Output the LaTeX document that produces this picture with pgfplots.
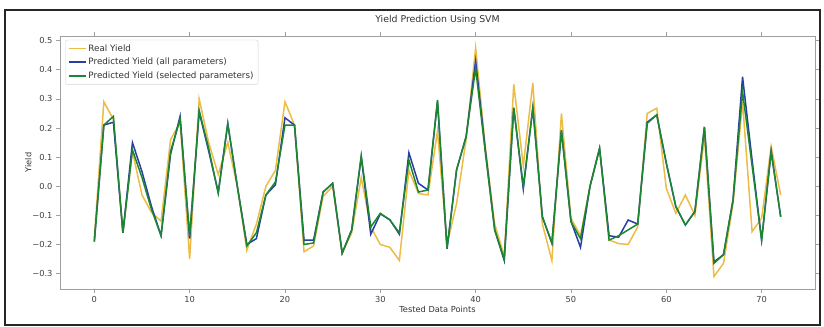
\documentclass[border=0pt]{standalone}
\usepackage{pgfplots}
\pgfplotsset{compat=1.18}
\usepackage{pgfplotstable}
\usepackage{fontspec}
\setmainfont{DejaVu Sans}
\definecolor{cyel}{RGB}{236,188,70}
\definecolor{cblu}{RGB}{40,62,165}
\definecolor{cgrn}{RGB}{28,135,48}
\pgfplotstableread{
i real allp selp
0 -0.18 -0.19 -0.19
1 0.29 0.21 0.21
2 0.23 0.22 0.24
3 -0.16 -0.16 -0.16
4 0.12 0.15 0.125
5 -0.03 0.05 0.03
6 -0.09 -0.07 -0.08
7 -0.12 -0.17 -0.17
8 0.16 0.11 0.12
9 0.22 0.24 0.23
10 -0.25 -0.18 -0.17
11 0.30 0.255 0.26
12 0.15 0.12 0.13
13 0.04 -0.02 -0.025
14 0.15 0.215 0.215
15 0.0 0.0 0.0
16 -0.22 -0.20 -0.205
17 -0.13 -0.18 -0.16
18 0.0 -0.03 -0.03
19 0.055 0.005 0.015
20 0.29 0.235 0.21
21 0.21 0.21 0.21
22 -0.225 -0.185 -0.20
23 -0.205 -0.185 -0.195
24 -0.035 -0.02 -0.02
25 0.0 0.01 0.01
26 -0.23 -0.23 -0.23
27 -0.16 -0.15 -0.15
28 0.03 0.10 0.105
29 -0.14 -0.165 -0.14
30 -0.20 -0.095 -0.093
31 -0.21 -0.115 -0.116
32 -0.255 -0.165 -0.16
33 0.055 0.115 0.09
34 -0.025 0.01 -0.02
35 -0.03 -0.013 -0.013
36 0.19 0.29 0.296
37 -0.20 -0.215 -0.213
38 -0.06 0.056 0.056
39 0.16 0.17 0.17
40 0.475 0.43 0.405
41 0.14 0.13 0.12
42 -0.13 -0.15 -0.15
43 -0.24 -0.255 -0.25
44 0.35 0.27 0.268
45 0.07 -0.01 0.0
46 0.355 0.27 0.268
47 -0.13 -0.105 -0.105
48 -0.255 -0.195 -0.196
49 0.25 0.19 0.193
50 -0.11 -0.12 -0.122
51 -0.17 -0.21 -0.18
52 0.0 0.0 0.0
53 0.13 0.13 0.13
54 -0.185 -0.17 -0.185
55 -0.197 -0.175 -0.17
56 -0.20 -0.116 -0.15
57 -0.14 -0.13 -0.13
58 0.25 0.22 0.216
59 0.268 0.245 0.245
60 -0.007 0.08 0.079
61 -0.093 -0.07 -0.07
62 -0.03 -0.133 -0.133
63 -0.10 -0.087 -0.087
64 0.17 0.204 0.204
65 -0.31 -0.26 -0.265
66 -0.265 -0.235 -0.235
67 -0.06 -0.047 -0.047
68 0.29 0.376 0.325
69 -0.156 0.09 0.07
70 -0.11 -0.185 -0.185
71 0.136 0.12 0.119
72 -0.03 -0.105 -0.105
}\datatable
\begin{document}
\begin{tikzpicture}
\begin{axis}[
  at={(0,0)}, anchor=south west,
  scale only axis, width=755bp, height=253bp,
  xmin=-3.6, xmax=75.6, ymin=-0.353, ymax=0.516,
  axis line style={gray!75, line width=0.7bp},
  tick style={gray!75, line width=0.7bp},
  tick align=outside, major tick length=3.5bp,
  xtick={0,10,20,30,40,50,60,70},
  ytick={-0.3,-0.2,-0.1,0,0.1,0.2,0.3,0.4,0.5},
  yticklabels={−0.3,−0.2,−0.1,0.0,0.1,0.2,0.3,0.4,0.5},
  xticklabels={0,10,20,30,40,50,60,70},
  ticklabel style={font=\fontsize{8.3}{10}\selectfont, text=black!75},
  xticklabel style={yshift=-0.5bp},
  yticklabel style={xshift=-0.5bp},
  title={Yield Prediction Using SVM},
  title style={font=\fontsize{9.4}{11}\selectfont, text=black!80, at={(0.5,1)}, anchor=south, yshift=2bp},
  xlabel={Tested Data Points},
  ylabel={Yield},
  label style={font=\fontsize{8.3}{10}\selectfont, text=black!80},
  xlabel style={yshift=3bp},
  ylabel style={yshift=-6bp},
  legend cell align=left,
  legend style={at={(0.007,0.985)}, anchor=north west, draw=gray!35, rounded corners=2bp,
    fill=white, font=\fontsize{8.8}{10}\selectfont, text=black!80, row sep=1.5bp, inner sep=2.5bp},
  legend image code/.code={\draw[#1] (0bp,0bp) -- (17bp,0bp);},
]
\addplot[cyel, line width=1.5bp] table[x=i, y=real] {\datatable};
\addlegendentry{Real Yield}
\addplot[cblu, line width=1.5bp] table[x=i, y=allp] {\datatable};
\addlegendentry{Predicted Yield (all parameters)}
\addplot[cgrn, line width=1.5bp] table[x=i, y=selp] {\datatable};
\addlegendentry{Predicted Yield (selected parameters)}
\end{axis}
\draw[black!85, line width=1.3bp] (-55bp,-36bp) rectangle (760bp,279bp);
\pgfresetboundingbox
\path[use as bounding box] (-60bp,-38bp) rectangle (764bp,289bp);
\end{tikzpicture}
\end{document}
